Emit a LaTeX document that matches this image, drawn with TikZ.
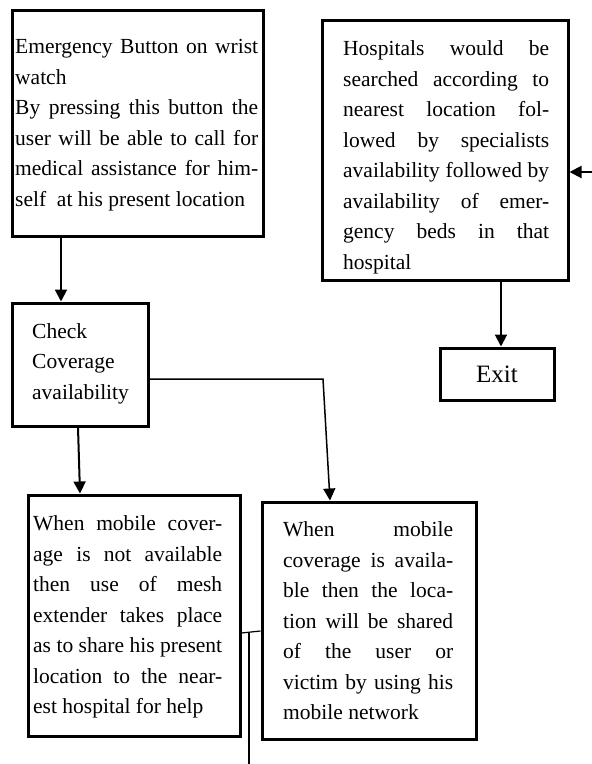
\documentclass[tikz,border=0pt]{standalone}
\usepackage{fontspec}
\setmainfont{Liberation Serif}
\usetikzlibrary{arrows.meta}
\begin{document}
\begin{tikzpicture}[x=1pt,y=-1pt,
  boxstyle/.style={draw,line width=3pt,inner sep=0pt,rectangle},
  txt/.style={inner sep=0pt,anchor=west,align=left,font=\fontsize{21.5}{30.5}\selectfont},
  arr/.style={line width=2pt,-{Triangle[width=12pt,length=12pt]}},
  thin/.style={line width=1.2pt}]
\useasboundingbox (0,0) rectangle (592,764);
% boxes
\node[boxstyle,minimum width=251pt,minimum height=226pt] (b1) at (137.5,123) {};
\node[boxstyle,minimum width=136pt,minimum height=123pt] (b2) at (80,364.5) {};
\node[boxstyle,minimum width=212pt,minimum height=241pt] (b3) at (134,615.5) {};
\node[boxstyle,minimum width=214pt,minimum height=237pt] (b4) at (369,620.5) {};
\node[boxstyle,minimum width=246pt,minimum height=260pt] (h) at (445,150) {};
\node[boxstyle,minimum width=114pt,minimum height=52pt,font=\fontsize{25}{30}\selectfont] (exit) at (497,374) {Exit};
% texts
\node[txt] (t1) at (15,124.1) {\strut\makebox[243pt][s]{Emergency Button on wrist}\\
watch\\
\makebox[243pt][s]{By pressing this button the}\\
\makebox[243pt][s]{user will be able to call for}\\
\makebox[243pt][s]{medical assistance for him-}\\
self\ \ at his present location\strut};
\node[txt] (t2) at (32,362.4) {\strut Check\\Coverage\\availability\strut};
\node[txt] (t3) at (33,615.9) {\strut\makebox[189pt][s]{When mobile cover-}\\
\makebox[189pt][s]{age is not available}\\
\makebox[189pt][s]{then use of mesh}\\
\makebox[189pt][s]{extender takes place}\\
\makebox[189pt][s]{as to share his present}\\
\makebox[189pt][s]{location to the near-}\\
est hospital for help\strut};
\node[txt] (t4) at (283,621.9) {\strut\makebox[170pt][s]{When mobile}\\
\makebox[170pt][s]{coverage is availa-}\\
\makebox[170pt][s]{ble then the loca-}\\
\makebox[170pt][s]{tion will be shared}\\
\makebox[170pt][s]{of the user or}\\
\makebox[170pt][s]{victim by using his}\\
mobile network\strut};
\node[txt] (t5) at (343,156.4) {\strut\makebox[206pt][s]{Hospitals would be}\\
\makebox[206pt][s]{searched according to}\\
\makebox[206pt][s]{nearest location fol-}\\
\makebox[206pt][s]{lowed by specialists}\\
\makebox[206pt][s]{availability followed by}\\
\makebox[206pt][s]{availability of emer-}\\
\makebox[206pt][s]{gency beds in that}\\
hospital\strut};
% connectors
\draw[arr] (b1.south -| 61,0) -- (b2.north -| 61,0);
\draw[arr] (b2.south -| 78,0) -- (b3.north -| 80,0);
\coordinate (k) at (323,379);
\draw[line width=1.5pt,-{Triangle[width=12pt,length=12pt]}] (b2.east |- k) -- (k) -- (b4.north -| 330,0);
\draw[thin] (b3.east |- 0,633) -- (b4.west |- 0,631);
\coordinate (m) at (249,633);
\coordinate (bot) at (249,764);
\draw[thin] (m) -- (bot);
\coordinate (r) at (592,172);
\draw[arr] (r) -- (h.east |- r);
\draw[arr] (h.south -| 501,0) -- (exit.north -| 501,0);
\end{tikzpicture}
\end{document}
